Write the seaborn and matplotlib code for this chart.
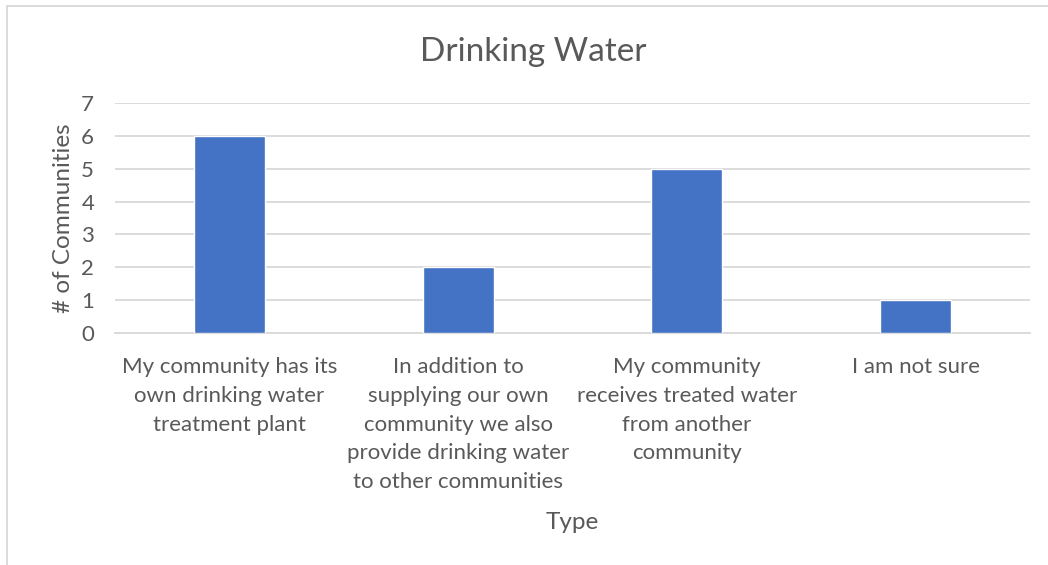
import matplotlib
matplotlib.use("Agg")
import matplotlib.pyplot as plt
from matplotlib.lines import Line2D
import seaborn as sns
import pandas as pd

categories = [
    "My community has its\nown drinking water\ntreatment plant",
    "In addition to\nsupplying our own\ncommunity we also\nprovide drinking water\nto other communities",
    "My community\nreceives treated water\nfrom another\ncommunity",
    "I am not sure",
]
counts = [6, 2, 5, 1]
y_ticks = [0, 1, 2, 3, 4, 5, 6, 7]

sns.set_theme(style="white")
plt.rcParams["font.family"] = ["Lato", "DejaVu Sans"]
text_color = "#595959"
grid_color = "#d9d9d9"

df = pd.DataFrame({"Type": categories, "Communities": counts})

fig = plt.figure(figsize=(10.48, 5.65), dpi=100)
ax = fig.add_axes([115 / 1048, 1 - 333 / 565, (1030 - 115) / 1048, (333 - 103) / 565])

sns.barplot(data=df, x="Type", y="Communities", color="#4472C4", width=0.31,
            saturation=1, ax=ax, zorder=3)

ax.set_ylim(0, 7)
ax.set_yticks(y_ticks)
ax.yaxis.grid(True, color=grid_color, linewidth=1.3, zorder=0)
ax.set_axisbelow(True)
for s in ["top", "right", "left"]:
    ax.spines[s].set_visible(False)
ax.spines["bottom"].set_color(grid_color)
ax.spines["bottom"].set_linewidth(1.3)
ax.tick_params(axis="both", length=0, colors=text_color, labelsize=16)
ax.tick_params(axis="y", pad=15)
ax.tick_params(axis="x", pad=17)
for lab in ax.get_xticklabels():
    lab.set_linespacing(1.56)
    lab.set_verticalalignment("top")

ax.set_xlabel("Type", color=text_color, fontsize=17.5, labelpad=14)
ax.set_ylabel("# of Communities", color=text_color, fontsize=17.5, labelpad=5)
fig.text(533 / 1048, 1 - 52 / 565, "Drinking Water", ha="center", va="center",
         color=text_color, fontsize=24)

# light frame around the chart area
fig.add_artist(Line2D([6.5 / 1048, 1.0], [1 - 5.5 / 565] * 2, color=grid_color,
                      linewidth=1.3, transform=fig.transFigure))
fig.add_artist(Line2D([6.5 / 1048] * 2, [0.0, 1 - 5.5 / 565], color=grid_color,
                      linewidth=1.3, transform=fig.transFigure))

fig.savefig("out.png", dpi=100, facecolor="white")
